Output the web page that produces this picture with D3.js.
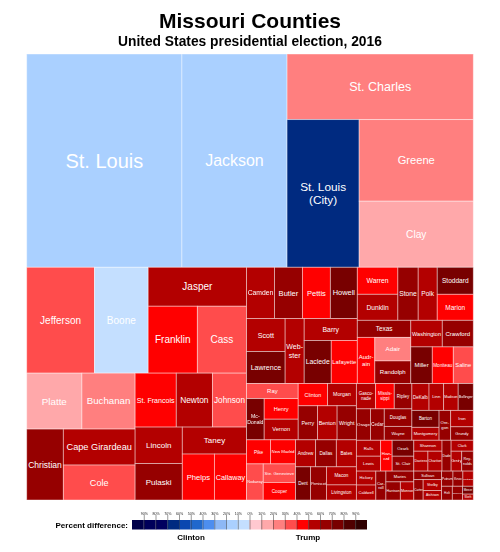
<!DOCTYPE html>
<html><head><meta charset="utf-8">
<script src="https://cdn.jsdelivr.net/npm/d3@7/dist/d3.min.js"></script>
<style>html,body{margin:0;padding:0;background:#fff}svg{display:block;filter:blur(0.35px)}text{font-family:"Liberation Sans",Arial,sans-serif}</style>
</head><body><svg id="c" width="500" height="552"></svg>
<script>
const titleText = "Missouri Counties";
const subtitleText = "United States presidential election, 2016";

const countyNames = ["St. Louis","Jackson","St. Charles","St. Louis (City)","Greene","Clay",
 "Jefferson","Boone","Jasper","Franklin","Cass","Platte","Buchanan","Christian","Cape Girardeau","Cole",
 "St. Francois","Newton","Johnson","Lincoln","Pulaski","Taney","Phelps","Callaway",
 "Camden","Butler","Pettis","Howell","Scott","Lawrence","Webster","Barry","Laclede","Lafayette",
 "Warren","Dunklin","Stone","Polk","Stoddard","Marion","Texas","Audrain","Adair","Randolph","Washington","Crawford","Miller","Moniteau","Saline",
 "Ray","McDonald","Henry","Vernon","Clinton","Morgan","Perry","Benton","Wright",
 "Pike","New Madrid","Nodaway","Ste. Genevieve","Cooper","Andrew","Dallas","Bates","Dent","Pemiscot","Macon","Livingston",
 "Gasconade","Mississippi","Ripley","Osage","Cedar","Douglas","Wayne","DeKalb","Linn","Madison","Bollinger","Barton","Montgomery","Oregon","Iron","Grundy",
 "Ralls","Lewis","Howard","Ozark","St. Clair","Hickory","Caldwell","Carroll","Maries","Harrison","Monroe",
 "Shannon","Daviess","Chariton","Dade","Clark","Gentry","Reynolds","Sullivan","Carter","Shelby","Atchison","Putnam","Knox","Scotland","Holt","Schuyler","Mercer","Worth"];

const countyVotes = [462210,313110,170560,148680,130070,105340,
 100170,79390,53510,45960,45960,43120,41550,36290,36040,35040,
 31000,27220,25700,24020,24020,24190,20610,20610,
 19990,19990,19990,19280,17780,17250,17290,16320,16250,15650,
 15300,14740,15060,14100,13610,13100,12740,11270,11840,11340,11690,11510,10990,10740,10220,
 10850,10160,9800,9800,9130,8970,9170,9320,9170,
 8060,8400,8410,8370,7910,7560,7830,7560,6930,7390,7560,6300,
 6790,6610,6240,6170,6050,6760,5350,6430,5470,5470,5670,6430,4910,4830,5190,4260,
 5380,5040,4980,4820,4510,3780,4060,4060,4200,3650,3400,
 4310,3920,3920,3910,3390,2940,3220,3290,2660,2810,2440,2410,2100,2200,2060,1960,1180,880];

const countyMargins = [-15,-15,25,-65,25,15,
 35,-5,55,45,35,15,25,65,55,35,
 45,55,35,55,65,55,45,45,
 55,65,45,75,55,75,55,55,75,45,
 45,55,65,55,75,45,65,45,25,65,55,65,75,45,35,
 35,75,45,55,45,55,65,55,65,
 45,45,35,35,45,55,65,55,75,65,55,55,
 55,45,65,65,65,65,65,55,55,55,75,75,55,65,55,65,
 55,55,45,75,65,55,55,65,65,65,55,
 55,55,55,65,55,55,65,65,65,55,55,65,65,55,65,65,75,55];

const labelBreaks = {"St. Louis (City)":["St. Louis","(City)"],"Webster":["Web-","ster"],"Audrain":["Audr-","ain"],
 "McDonald":["Mc-","Donald"],"Howard":["How-","ard"],"Carroll":["Car-","roll"],"Oregon":["Ore-","gon"],
 "Reynolds":["Rey-","nolds"],"Gasconade":["Gasco-","nade"],"Mississippi":["Missis-","sippi"]};

const legendTicks = [-90,-80,-70,-60,-50,-40,-30,-20,-10,0,10,20,30,40,50,60,70,80,90];
const legendEdges = [-100,-90,-80,-70,-60,-50,-40,-30,-20,-10,0,10,20,30,40,50,60,70,80,90,100];
const binColors = ["#00004a","#00005a","#00005f","#002a80","#0a47b0","#2068cc","#4d8eef","#8db8f5","#aad0ff","#c4dfff",
 "#ffc8d0","#ffa8aa","#ff7f7f","#ff4c4c","#ff0000","#b30000","#960000","#780000","#500000","#300000"];

const H = (...c) => ({dir:"h", children:c.map(wrap)});
const V = (...c) => ({dir:"v", children:c.map(wrap)});
const wrap = c => typeof c === "string" ? {name:c} : c;
const tree = V(
 H("St. Louis","Jackson",V("St. Charles",H("St. Louis (City)",V("Greene","Clay")))),
 H(
  V(H("Jefferson","Boone",V("Jasper",H("Franklin","Cass"))),
    H(V(H("Platte","Buchanan"),H("Christian",V("Cape Girardeau","Cole"))),
      V(H("St. Francois","Newton","Johnson"),H(V("Lincoln","Pulaski"),V("Taney",H("Phelps","Callaway")))))),
  V(H(V(H("Camden","Butler","Pettis","Howell"),H(V("Scott","Lawrence"),"Webster",V("Barry",H("Laclede","Lafayette")))),
      V(H(V("Warren","Dunklin"),"Stone","Polk",V("Stoddard","Marion")),
        H(V("Texas",H("Audrain",V("Adair","Randolph"))),V(H("Washington","Crawford"),H("Miller","Moniteau","Saline"))))),
    H(V(H(V("Ray",H("McDonald",V("Henry","Vernon"))),V(H("Clinton","Morgan"),H("Perry","Benton","Wright"))),
        H(V(H("Pike","New Madrid"),H("Nodaway",V("Ste. Genevieve","Cooper"))),
          V(H("Andrew","Dallas","Bates"),H("Dent","Pemiscot",V("Macon","Livingston"))))),
      V(H(V(H("Gasconade","Mississippi","Ripley"),H("Osage","Cedar",V("Douglas","Wayne"))),
          V(H("DeKalb","Linn","Madison","Bollinger"),H(V("Barton","Montgomery"),"Oregon",V("Iron","Grundy")))),
        H(V(H(V("Ralls","Lewis"),"Howard",V("Ozark","St. Clair")),H(V("Hickory","Caldwell"),"Carroll",V("Maries",H("Harrison","Monroe")))),
          V(H(V("Shannon",H("Daviess","Chariton")),"Dade",V("Clark",H("Gentry","Reynolds"))),
            H(V("Sullivan",H("Carter",V("Shelby","Atchison"))),V(H("Putnam","Knox","Scotland"),H("Holt","Schuyler",V("Mercer","Worth"))))))))))
);

const svg = d3.select("#c");
const margin = {left:26.7, top:54, right:26.7, bottom:52};
const width = 500 - margin.left - margin.right, height = 552 - margin.top - margin.bottom;

const votesByName = new Map(countyNames.map((n,i)=>[n,countyVotes[i]]));
const marginByName = new Map(countyNames.map((n,i)=>[n,countyMargins[i]]));

const color = d3.scaleThreshold().domain(legendEdges.slice(1,-1)).range(binColors);

const root = d3.hierarchy(tree).sum(d => d.name ? votesByName.get(d.name) : 0);
d3.treemap().size([width,height]).round(false)
  .tile((node,x0,y0,x1,y1) => (node.data.dir==="h" ? d3.treemapDice : d3.treemapSlice)(node,x0,y0,x1,y1))(root);

svg.append("text").attr("x",250).attr("y",28).attr("text-anchor","middle")
  .attr("font-size",21).attr("font-weight","bold").text(titleText);
svg.append("text").attr("x",250).attr("y",45.5).attr("text-anchor","middle")
  .attr("font-size",13.8).attr("font-weight","bold").text(subtitleText);

const fontBySize = d3.scaleLinear()
  .domain([5,8,13,18,24,26,30,35,38,57,85,110,150,182])
  .range([2,2.6,3.3,4.2,4.7,5.5,6.4,7,7.6,10,10,12.5,16,20]).clamp(true);

const g = svg.append("g").attr("transform",`translate(${margin.left},${margin.top})`);
const cells = g.selectAll("g").data(root.leaves()).join("g")
  .attr("transform",d=>`translate(${d.x0},${d.y0})`);
cells.append("rect").attr("width",d=>d.x1-d.x0).attr("height",d=>d.y1-d.y0)
  .attr("fill",d=>color(marginByName.get(d.data.name)))
  .attr("stroke","#fff").attr("stroke-opacity",0.45).attr("stroke-width",0.9);

cells.each(function(d){
  const w=d.x1-d.x0,h=d.y1-d.y0;
  const lines=labelBreaks[d.data.name]||[d.data.name];
  const t=d3.select(this).append("text").attr("text-anchor","middle").attr("fill","#fff").attr("font-size",10);
  const spans=lines.map(l=>t.append("tspan").attr("x",w/2).text(l));
  const longest=d3.max(spans,s=>s.node().getComputedTextLength())/10;
  const fs=Math.min(fontBySize(Math.sqrt(w*h)), 0.92*w/longest);
  t.attr("font-size",fs);
  const lh=fs*1.15;
  spans.forEach((s,i)=>s.attr("y",h/2+fs*0.35+(i-(lines.length-1)/2)*lh));
});

// Legend
const lx = d3.scaleLinear().domain([-100,100]).range([132,367]);
const legend = svg.append("g");
legend.selectAll("rect").data(binColors).join("rect")
  .attr("x",(c,i)=>lx(legendEdges[i])).attr("y",520)
  .attr("width",(c,i)=>lx(legendEdges[i+1])-lx(legendEdges[i])).attr("height",9.5).attr("fill",c=>c);
const axis = d3.axisTop(lx).tickValues(legendTicks).tickSize(5).tickFormat(d=>Math.abs(d)+"%");
const axg = legend.append("g").attr("transform","translate(0,520)").call(axis);
axg.select(".domain").remove();
axg.selectAll(".tick line").attr("stroke","#333").attr("stroke-width",0.5).attr("y1",9.5);
axg.selectAll(".tick text").attr("font-size",3.6).attr("fill","#222").attr("y",-5.5).attr("font-family","Liberation Sans");
svg.append("text").attr("x",128).attr("y",527.5).attr("text-anchor","end").attr("font-size",8).attr("font-weight","bold").text("Percent difference:");
svg.append("text").attr("x",191).attr("y",540).attr("text-anchor","middle").attr("font-size",8).attr("font-weight","bold").text("Clinton");
svg.append("text").attr("x",308).attr("y",540).attr("text-anchor","middle").attr("font-size",8).attr("font-weight","bold").text("Trump");
</script></body></html>
